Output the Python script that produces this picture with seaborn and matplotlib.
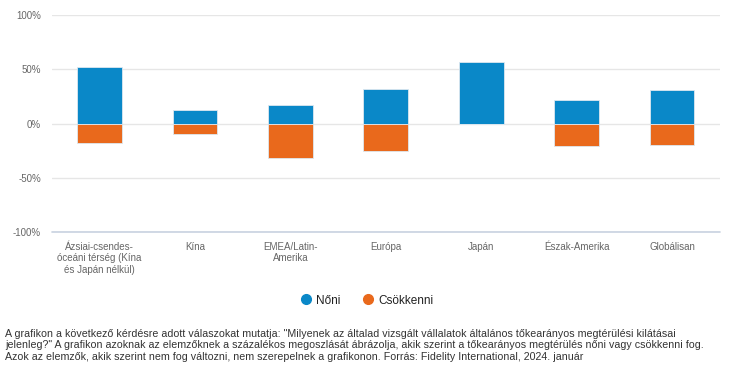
import pandas as pd
import matplotlib
matplotlib.use("Agg")
import matplotlib.pyplot as plt
import seaborn as sns
from matplotlib.lines import Line2D

# Data
categories = [
    "Ázsiai-csendes-\nóceáni térség (Kína\nés Japán nélkül)",
    "Kína",
    "EMEA/Latin-\nAmerika",
    "Európa",
    "Japán",
    "Észak-Amerika",
    "Globálisan",
]
noni = [52, 12, 17, 32, 57, 22, 31]
csokkenni = [-18, -10, -32, -25, 0, -21, -20]
series_names = ["Nőni", "Csökkenni"]
yticks = [-100, -50, 0, 50, 100]
ytick_labels = ["-100%", "-50%", "0%", "50%", "100%"]

footnote = (
    "A grafikon a következő kérdésre adott válaszokat mutatja: \"Milyenek az általad vizsgált vállalatok általános tőkearányos megtérülési kilátásai\n"
    "jelenleg?\" A grafikon azoknak az elemzőknek a százalékos megoszlását ábrázolja, akik szerint a tőkearányos megtérülés nőni vagy csökkenni fog.\n"
    "Azok az elemzők, akik szerint nem fog változni, nem szerepelnek a grafikonon. Forrás: Fidelity International, 2024. január"
)

colors = {"Nőni": "#0a88c8", "Csökkenni": "#e9691c"}

df = pd.DataFrame({
    "kategoria": categories * 2,
    "ertek": noni + csokkenni,
    "sorozat": [series_names[0]] * len(categories) + [series_names[1]] * len(categories),
})

sns.set_style("white")
plt.rcParams["font.family"] = ["Liberation Sans", "DejaVu Sans"]

fig = plt.figure(figsize=(7.3, 3.8), dpi=100)
ax = fig.add_axes([0.0712, 0.3895, 0.9148, 0.571])

sns.barplot(data=df, x="kategoria", y="ertek", hue="sorozat", dodge=False,
            palette=colors, saturation=1, width=0.47, order=categories,
            hue_order=series_names, edgecolor="#dde8f0", linewidth=0.6,
            legend=False, ax=ax)

ax.set_ylim(-100, 100)
ax.set_yticks(yticks)
ax.set_yticklabels(ytick_labels)
ax.set_xlim(-0.5, len(categories) - 0.5)
ax.set_xlabel("")
ax.set_ylabel("")
ax.grid(axis="y", color="#e6e6e6", linewidth=1)
ax.set_axisbelow(True)
for s in ["top", "right", "left", "bottom"]:
    ax.spines[s].set_visible(False)
ax.axhline(-100, color="#c8d2e0", linewidth=1.2, zorder=3, clip_on=False)
ax.tick_params(axis="y", labelsize=7, labelcolor="#666666", length=0, pad=8)
ax.tick_params(axis="x", labelsize=7, labelcolor="#666666", length=0, pad=7)

handles = [Line2D([0], [0], marker="o", linestyle="", markersize=7,
                  markerfacecolor=colors[n], markeredgecolor=colors[n]) for n in series_names]
fig.legend(handles, series_names, loc="center", bbox_to_anchor=(0.503, 0.209),
           ncol=2, frameon=False, fontsize=8.5, handletextpad=0.5, columnspacing=1.9,
           handlelength=0.8, labelcolor="#222222")

fig.text(0.007, 0.134, footnote, fontsize=7.7, color="#333333", va="top",
         ha="left", linespacing=1.17)

fig.savefig("out.png", dpi=100)
